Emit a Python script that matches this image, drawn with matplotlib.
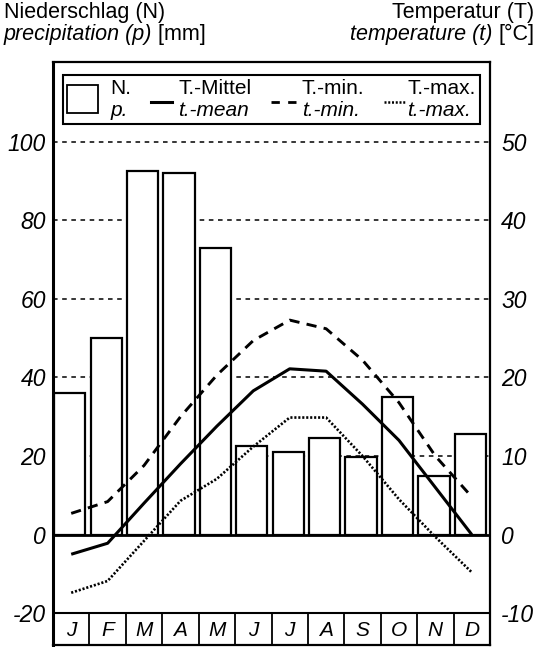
import matplotlib
matplotlib.use("Agg")
from matplotlib import pyplot as plt
from matplotlib.offsetbox import AnchoredOffsetbox, HPacker, VPacker, TextArea, DrawingArea
from matplotlib.patches import Rectangle
from matplotlib.lines import Line2D

plt.rcParams['font.family'] = ['Liberation Sans', 'DejaVu Sans']

# data
months = ["J", "F", "M", "A", "M", "J", "J", "A", "S", "O", "N", "D"]
precip = [36, 50, 92.5, 92, 73, 22.5, 21, 24.5, 19.7, 35, 15, 25.6]   # mm
t_mean = [-2.5, -1.1, 4.0, 9.0, 13.8, 18.3, 21.1, 20.8, 16.6, 12.0, 6.0, 0.0]
t_min = [2.7, 4.2, 8.8, 15.0, 20.3, 24.7, 27.3, 26.2, 22.2, 16.8, 10.0, 4.8]   # dashed
t_max = [-7.4, -5.9, -0.8, 4.3, 7.1, 11.2, 14.9, 14.9, 10.0, 4.5, -0.3, -4.8]  # dotted
p_ticks = [-20, 0, 20, 40, 60, 80, 100]
t_ticks = [-10, 0, 10, 20, 30, 40, 50]
grid_vals = [20, 40, 60, 80, 100]

p_lo, p_hi = -28.1, 120.3

fig = plt.figure(figsize=(5.38, 6.47), dpi=100)
ax = fig.add_axes([53 / 538, 2 / 647, 437 / 538, 583 / 647])
ax.set_xlim(0, 12)
ax.set_ylim(p_lo, p_hi)

x = list(range(12))
xc = [i + 0.5 for i in x]

# dashed grid behind the bars
ax.hlines(grid_vals, 0, 12, colors="k", linewidth=1.1, linestyles=(0, (3, 3)), zorder=1)

# precipitation bars
ax.bar([i + 0.03 for i in x], precip, width=0.86, align="edge",
       facecolor="white", edgecolor="black", linewidth=1.6, zorder=2)

# zero line and month row
ax.axhline(0, color="black", linewidth=2.0, zorder=4)
ax.axhline(-20, color="black", linewidth=1.5, zorder=4)
ax.vlines(range(1, 12), p_lo, -20, colors="black", linewidth=1.3, zorder=4)
for i, m in enumerate(months):
    ax.text(xc[i], (p_lo - 20) / 2 - 0.3, m, ha="center", va="center",
            fontsize=15, style="italic")

ax.set_xticks([])
ax.set_yticks(p_ticks)
ax.set_yticklabels([str(v) for v in p_ticks], fontsize=16.5, style="italic")
ax.tick_params(axis="y", length=0, pad=5)
for s in ax.spines.values():
    s.set_linewidth(1.6)
ax.spines["left"].set_linewidth(2.2)

# temperature axis (1 degree = 2 mm)
ax2 = ax.twinx()
ax2.set_ylim(p_lo / 2, p_hi / 2)
ax2.plot(xc, t_mean, color="black", linewidth=2.2, solid_capstyle="butt")
ax2.plot(xc, t_min, color="black", linewidth=2.1, linestyle=(0, (3.5, 2.5)))
ax2.plot(xc, t_max, color="black", linewidth=1.9, linestyle=(0, (0.8, 0.7)))
ax2.set_yticks(t_ticks)
ax2.set_yticklabels([str(v) for v in t_ticks], fontsize=16.5, style="italic")
ax2.tick_params(axis="y", length=0, pad=8)
for s in ax2.spines.values():
    s.set_visible(False)

# legend
fs = 15


def label(top, bottom):
    return VPacker(children=[TextArea(top, textprops=dict(fontsize=fs)),
                             TextArea(bottom, textprops=dict(fontsize=fs, style="italic"))],
                   align="left", pad=0, sep=2)


def line_key(w, **kw):
    da = DrawingArea(w, 4, 0, 0)
    da.add_artist(Line2D([0, w], [0, 0], color="black", **kw))
    return da


box = DrawingArea(22, 20, 0, 0)
box.add_artist(Rectangle((0, 0), 22, 20, facecolor="white", edgecolor="black", linewidth=1.3))

items = [
    HPacker(children=[box, label("N.", "p.")], align="center", pad=0, sep=9),
    HPacker(children=[line_key(15, linewidth=2.2), label("T.-Mittel", "t.-mean")],
            align="center", pad=0, sep=5),
    HPacker(children=[line_key(18, linewidth=2.0, linestyle=(0, (3, 3))), label("T.-min.", "t.-min.")],
            align="center", pad=0, sep=4),
    HPacker(children=[line_key(16, linewidth=1.8, linestyle=(0, (0.8, 0.7))), label("T.-max.", "t.-max.")],
            align="center", pad=0, sep=1),
]
row = HPacker(children=items, align="center", pad=0, sep=14)
leg = AnchoredOffsetbox(loc="upper left", child=row, pad=0.3, borderpad=0,
                        bbox_to_anchor=(0.023, 0.978), bbox_transform=ax.transAxes,
                        frameon=True, prop=dict(size=10))
leg.patch.set_boxstyle("square", pad=0)
leg.patch.set_linewidth(1.5)
leg.patch.set_edgecolor("black")
leg.zorder = 10
ax2.add_artist(leg)

# axis titles
hs = 15.5
fig.text(4 / 538, 1 - 18 / 647, "Niederschlag (N)", fontsize=hs, va="baseline", ha="left")
p1 = fig.text(4 / 538, 1 - 40 / 647, "precipitation (p)", fontsize=hs, va="baseline",
              ha="left", style="italic")
fig.text(534 / 538, 1 - 18 / 647, "Temperatur (T)", fontsize=hs, va="baseline", ha="right")
t2 = fig.text(534 / 538, 1 - 40 / 647, "[°C]", fontsize=hs, va="baseline", ha="right")
ax.annotate(" [mm]", xy=(1, 0), xycoords=p1, fontsize=hs, va="bottom", ha="left")
ax.annotate("temperature (t) ", xy=(0, 0), xycoords=t2, fontsize=hs, va="bottom",
            ha="right", style="italic")

plt.savefig("out.png", dpi=100)
